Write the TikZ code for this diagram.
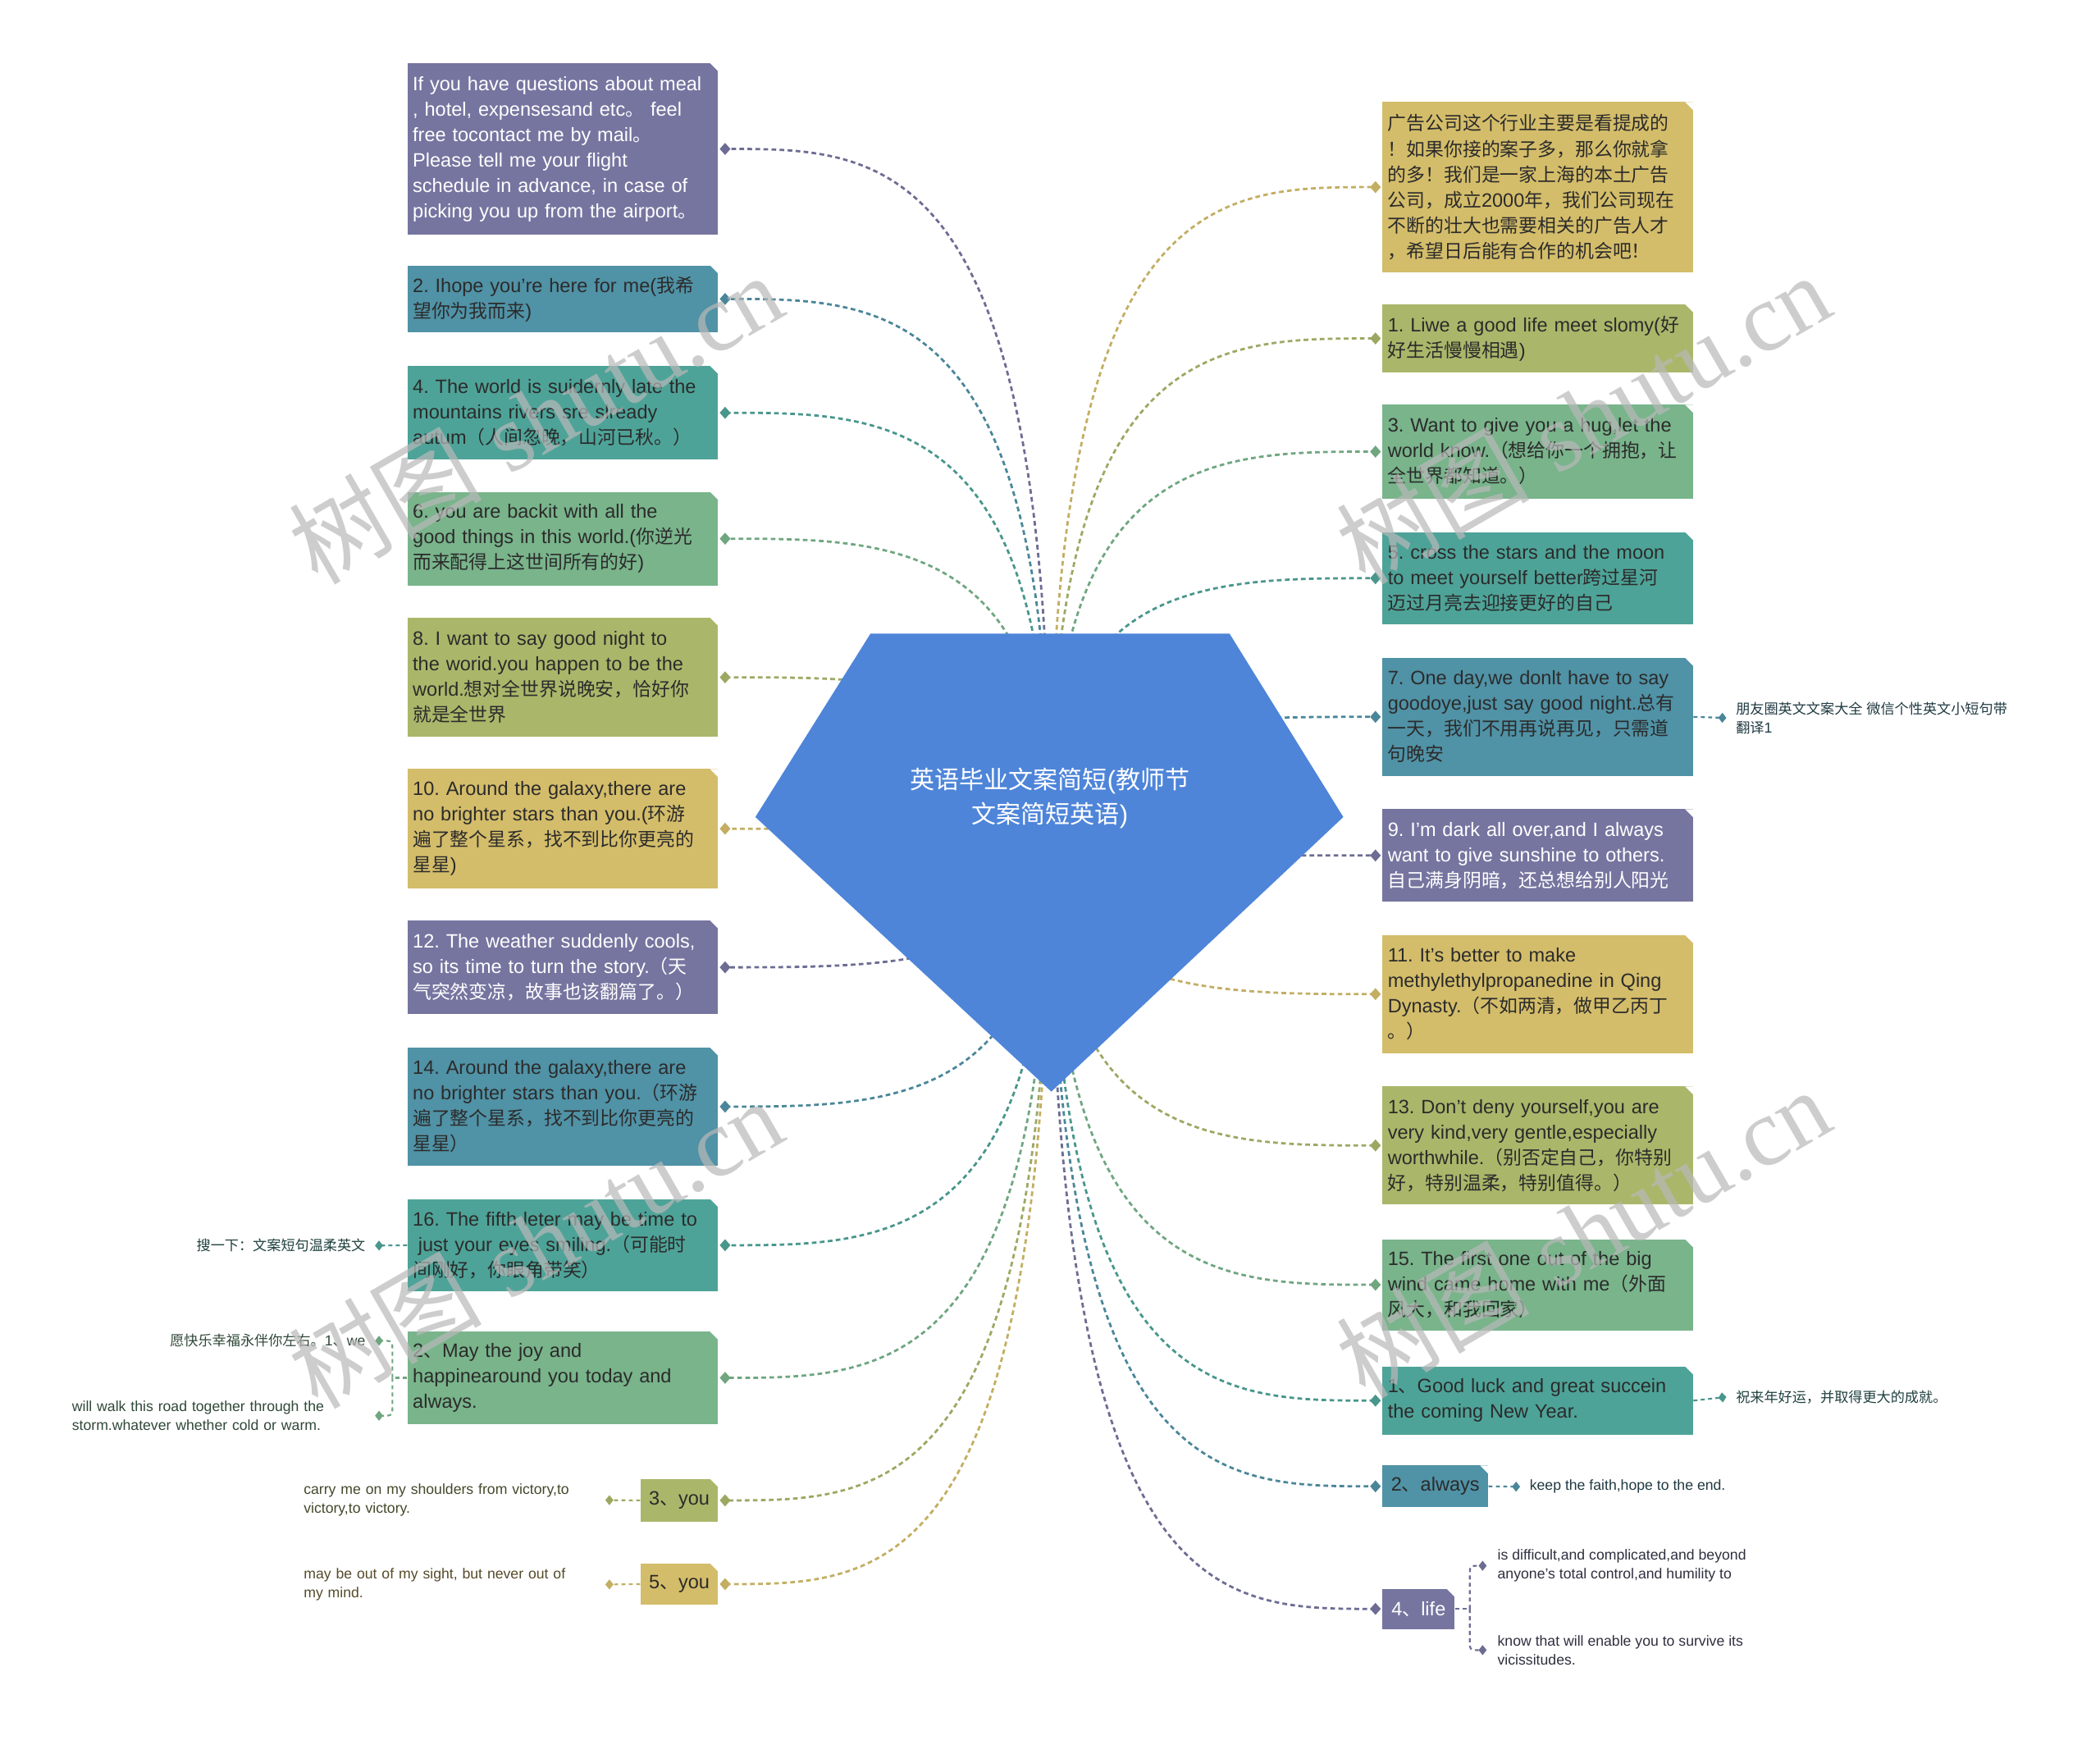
\documentclass[tikz,border=0pt]{standalone}
\usepackage{fontspec}
\setmainfont{Liberation Sans}[Scale=1.03]
\newfontfamily\cjk{Noto Sans CJK SC}
\newfontfamily\wmserif{Liberation Serif}
\usetikzlibrary{arrows.meta,calc}
\frenchspacing
% automatic switch between Latin and CJK fonts
\XeTeXinterchartokenstate=1
\makeatletter
\chardef\mycjkcls=201
\count@="3000
\loop\ifnum\count@<"3040 \XeTeXcharclass\count@=\mycjkcls\advance\count@\@ne\repeat
\count@="4E00
\loop\ifnum\count@<"A000 \XeTeXcharclass\count@=\mycjkcls\advance\count@\@ne\repeat
\count@="FF00
\loop\ifnum\count@<"FFF0 \XeTeXcharclass\count@=\mycjkcls\advance\count@\@ne\repeat
\makeatother
\XeTeXinterchartoks 0 \mycjkcls = {\cjk}
\XeTeXinterchartoks 4095 \mycjkcls = {\cjk}
\XeTeXinterchartoks \mycjkcls 0 = {\rmfamily}
\XeTeXinterchartoks \mycjkcls 4095 = {\rmfamily}

\definecolor{cPur}{HTML}{7675A0}
\definecolor{cTB}{HTML}{5092A6}
\definecolor{cTG}{HTML}{4EA398}
\definecolor{cGr}{HTML}{79B48B}
\definecolor{cOl}{HTML}{AAB76A}
\definecolor{cGo}{HTML}{D4BD6A}
\definecolor{cRoot}{HTML}{4E85D9}
\definecolor{txtdark}{HTML}{2B2B2B}

\tikzset{
  chamfer/.style={path picture={\fill[white] ([xshift=-6pt]path picture bounding box.north east) -- (path picture bounding box.north east) -- ([yshift=-6pt]path picture bounding box.north east) -- cycle;}},
  bx/.style={rectangle, anchor=north west, fill=#1, inner xsep=4pt, inner ysep=0pt,
    text width=224pt, align=left, font=\fontsize{14}{19}\selectfont, text=txtdark, chamfer},
  sbx/.style={rectangle, anchor=north west, fill=#1, inner sep=0pt, align=center,
    font=\fontsize{14}{19}\selectfont, text=txtdark, chamfer},
  ct/.style={font=\fontsize{10.5}{14}\selectfont, inner sep=2pt, align=left, text=#1!40!black},
  conn/.style={draw=#1!92!black, line width=1.7pt, dash pattern=on 3.5pt off 2.5pt,
    -{Diamond[length=8pt,width=9pt]}},
  cc/.style={draw=#1!92!black, line width=1.3pt, dash pattern=on 3pt off 2.5pt,
    -{Diamond[length=6pt,width=7.5pt]}},
  ccl/.style={draw=#1!92!black, line width=1.3pt, dash pattern=on 3pt off 2.5pt},
  wm/.style={rotate=30, text=gray!55, opacity=0.7, font=\fontsize{72}{72}\selectfont, inner sep=0pt},
}
\newcommand\lconn[2]{\draw[conn=#2] (hub) .. controls (hub |- #1.east) and ($(hub |- #1.east)!0.5!(#1.east)$) .. ([xshift=1pt]#1.east);}
\newcommand\rconn[2]{\draw[conn=#2] (hub) .. controls (hub |- #1.west) and ($(hub |- #1.west)!0.5!(#1.west)$) .. ([xshift=-1pt]#1.west);}

\begin{document}
\begin{tikzpicture}[x=1pt,y=-1pt]
\fill[white] (0,0) rectangle (1568,1299);
\useasboundingbox (0,0) rectangle (1568,1299);

% ---------- left boxes ----------
\node[bx=cPur, text=white, minimum height=128pt] (L1) at (304,47) {If you have questions about meal\\, hotel, expensesand etc。 feel\\free tocontact me by mail。\\Please tell me your flight\\schedule in advance, in case of\\picking you up from the airport。};
\node[bx=cTB, minimum height=50pt] (L2) at (304,198) {2. Ihope you're here for me(我希\\望你为我而来)};
\node[bx=cTG, minimum height=70pt] (L3) at (304,273) {4. The world is suidernly late the\\mountains rivers sre slready\\autum（人间忽晚，山河已秋。）};
\node[bx=cGr, minimum height=70pt] (L4) at (304,367) {6. you are backit with all the\\good things in this world.(你逆光\\而来配得上这世间所有的好)};
\node[bx=cOl, minimum height=89pt] (L5) at (304,461) {8. I want to say good night to\\the worid.you happen to be the\\world.想对全世界说晚安，恰好你\\就是全世界};
\node[bx=cGo, minimum height=89pt] (L6) at (304,574) {10. Around the galaxy,there are\\no brighter stars than you.(环游\\遍了整个星系，找不到比你更亮的\\星星)};
\node[bx=cPur, text=white, minimum height=70pt] (L7) at (304,687) {12. The weather suddenly cools,\\so its time to turn the story.（天\\气突然变凉，故事也该翻篇了。）};
\node[bx=cTB, minimum height=88pt] (L8) at (304,782) {14. Around the galaxy,there are\\no brighter stars than you.（环游\\遍了整个星系，找不到比你更亮的\\星星）};
\node[bx=cTG, minimum height=69pt] (L9) at (304,895) {16. The fifth leter may be time to\\\hspace*{0.28em}just your eyes smiling.（可能时\\间刚好，你眼角带笑）};
\node[bx=cGr, minimum height=69pt] (L10) at (304,994) {2、May the joy and\\happinearound you today and\\always.};
\node[sbx=cOl, minimum width=58pt, minimum height=32pt] (L11) at (478,1104) {3、you};
\node[sbx=cGo, minimum width=58pt, minimum height=31pt] (L12) at (478,1167) {5、you};

% ---------- right boxes ----------
\node[bx=cGo, minimum height=127pt] (R1) at (1032,76) {广告公司这个行业主要是看提成的\\！如果你接的案子多，那么你就拿\\的多！我们是一家上海的本土广告\\公司，成立2000年，我们公司现在\\不断的壮大也需要相关的广告人才\\，希望日后能有合作的机会吧！};
\node[bx=cOl, minimum height=51pt] (R2) at (1032,227) {\mbox{1. Liwe a good life meet slomy(好}\\好生活慢慢相遇)};
\node[bx=cGr, minimum height=70pt] (R3) at (1032,302) {3. Want to give you a hug,let the\\world know.（想给你一个拥抱，让\\全世界都知道。）};
\node[bx=cTG, minimum height=69pt] (R4) at (1032,397) {5. cross the stars and the moon\\to meet yourself better跨过星河\\迈过月亮去迎接更好的自己};
\node[bx=cTB, minimum height=88pt] (R5) at (1032,491) {7. One day,we donlt have to say\\goodoye,just say good night.总有\\一天，我们不用再说再见，只需道\\句晚安};
\node[bx=cPur, text=white, minimum height=69pt] (R6) at (1032,604) {9. I'm dark all over,and I always\\want to give sunshine to others.\\自己满身阴暗，还总想给别人阳光};
\node[bx=cGo, minimum height=88pt] (R7) at (1032,698) {11. It's better to make\\methylethylpropanedine in Qing\\Dynasty.（不如两清，做甲乙丙丁\\。）};
\node[bx=cOl, minimum height=88pt] (R8) at (1032,811) {13. Don't deny yourself,you are\\very kind,very gentle,especially\\worthwhile.（别否定自己，你特别\\好，特别温柔，特别值得。）};
\node[bx=cGr, minimum height=68pt] (R9) at (1032,925) {15. The first one out of the big\\wind came home with me（外面\\风大，和我回家）};
\node[bx=cTG, minimum height=51pt] (R10) at (1032,1020) {1、Good luck and great succein\\the coming New Year.};
\node[sbx=cTB, minimum width=79pt, minimum height=31pt] (R11) at (1032,1094) {2、always};
\node[sbx=cPur, text=white, minimum width=54pt, minimum height=30pt] (R12) at (1032,1186) {4、life};

% ---------- child texts ----------
\node[ct=cTB, anchor=west] (c5) at (1294,536) {朋友圈英文文案大全 微信个性英文小短句带\\翻译1};
\node[ct=cTG, anchor=west] (c10r) at (1294,1043) {祝来年好运，并取得更大的成就。};
\node[ct=cTB, anchor=west] (c11r) at (1140,1110) {keep the faith,hope to the end.};
\node[ct=cPur, anchor=west] (c12a) at (1116,1169) {is difficult,and complicated,and beyond\\anyone's total control,and humility to};
\node[ct=cPur, anchor=west] (c12b) at (1116,1232) {know that will enable you to survive its\\vicissitudes.};
\node[ct=cTG, anchor=east] (c9) at (275,930) {搜一下：文案短句温柔英文};
\node[ct=cGr, anchor=east] (c10a) at (275,1001) {愿快乐幸福永伴你左右。1、we};
\node[ct=cGr, anchor=east, text width=222pt] (c10b) at (278,1057) {will walk this road together through the\\storm.whatever whether cold or warm.};
\node[ct=cOl, anchor=east, text width=221pt] (c11) at (450,1120) {carry me on my shoulders from victory,to\\victory,to victory.};
\node[ct=cGo, anchor=east, text width=221pt] (c12) at (450,1183) {may be out of my sight, but never out of\\my mind.};

% ---------- main connectors ----------
\coordinate (hub) at (784,620);
\lconn{L1}{cPur}
\lconn{L2}{cTB}
\lconn{L3}{cTG}
\lconn{L4}{cGr}
\lconn{L5}{cOl}
\lconn{L6}{cGo}
\lconn{L7}{cPur}
\lconn{L8}{cTB}
\lconn{L9}{cTG}
\lconn{L10}{cGr}
\lconn{L11}{cOl}
\lconn{L12}{cGo}
\rconn{R1}{cGo}
\rconn{R2}{cOl}
\rconn{R3}{cGr}
\rconn{R4}{cTG}
\rconn{R5}{cTB}
\rconn{R6}{cPur}
\rconn{R7}{cGo}
\rconn{R8}{cOl}
\rconn{R9}{cGr}
\rconn{R10}{cTG}
\rconn{R11}{cTB}
\rconn{R12}{cPur}

% ---------- child connectors ----------
\draw[cc=cTB] (R5.east) -- ([xshift=-5pt]c5.west);
\draw[cc=cTG] (R10.east) -- ([xshift=-5pt]c10r.west);
\draw[cc=cTB] (R11.east) -- ([xshift=-5pt]c11r.west);
\draw[cc=cTG] (L9.west) -- ([xshift=5pt]c9.east);
\draw[cc=cOl] (L11.west) -- ([xshift=2pt]c11.east);
\draw[cc=cGo] (L12.west) -- ([xshift=2pt]c12.east);
\coordinate (b10) at ($(L10.west)+(-11,0)$);
\draw[ccl=cGr] (L10.west) -- (b10);
\draw[cc=cGr] (b10) -- ($(b10 |- c10a.east)+(0,8)$) .. controls (b10 |- c10a.east) .. ([xshift=5pt]c10a.east);
\draw[cc=cGr] (b10) -- ($(b10 |- c10b.east)+(0,-8)$) .. controls (b10 |- c10b.east) .. ([xshift=2pt]c10b.east);
\coordinate (b12) at ($(R12.east)+(11,0)$);
\draw[ccl=cPur] (R12.east) -- (b12);
\draw[cc=cPur] (b12) -- ($(b12 |- c12a.west)+(0,8)$) .. controls (b12 |- c12a.west) .. ([xshift=-6pt]c12a.west);
\draw[cc=cPur] (b12) -- ($(b12 |- c12b.west)+(0,-8)$) .. controls (b12 |- c12b.west) .. ([xshift=-6pt]c12b.west);

% ---------- central topic ----------
\fill[cRoot] (650,473) -- (918,473) -- (1003,610) -- (785,815) -- (564,610) -- cycle;
\node[text=white, align=center, font=\fontsize{18.4}{26}\selectfont] (root) at (784,596) {英语毕业文案简短(教师节\\文案简短英语)};

% ---------- watermarks ----------
\node[wm] (w1) at (400,312) {树图 {\wmserif shutu.cn}};
\node[wm] (w2) at (1182,312) {树图 {\wmserif shutu.cn}};
\node[wm] (w3) at (400,928) {树图 {\wmserif shutu.cn}};
\node[wm] (w4) at (1182,920) {树图 {\wmserif shutu.cn}};
\end{tikzpicture}
\end{document}
